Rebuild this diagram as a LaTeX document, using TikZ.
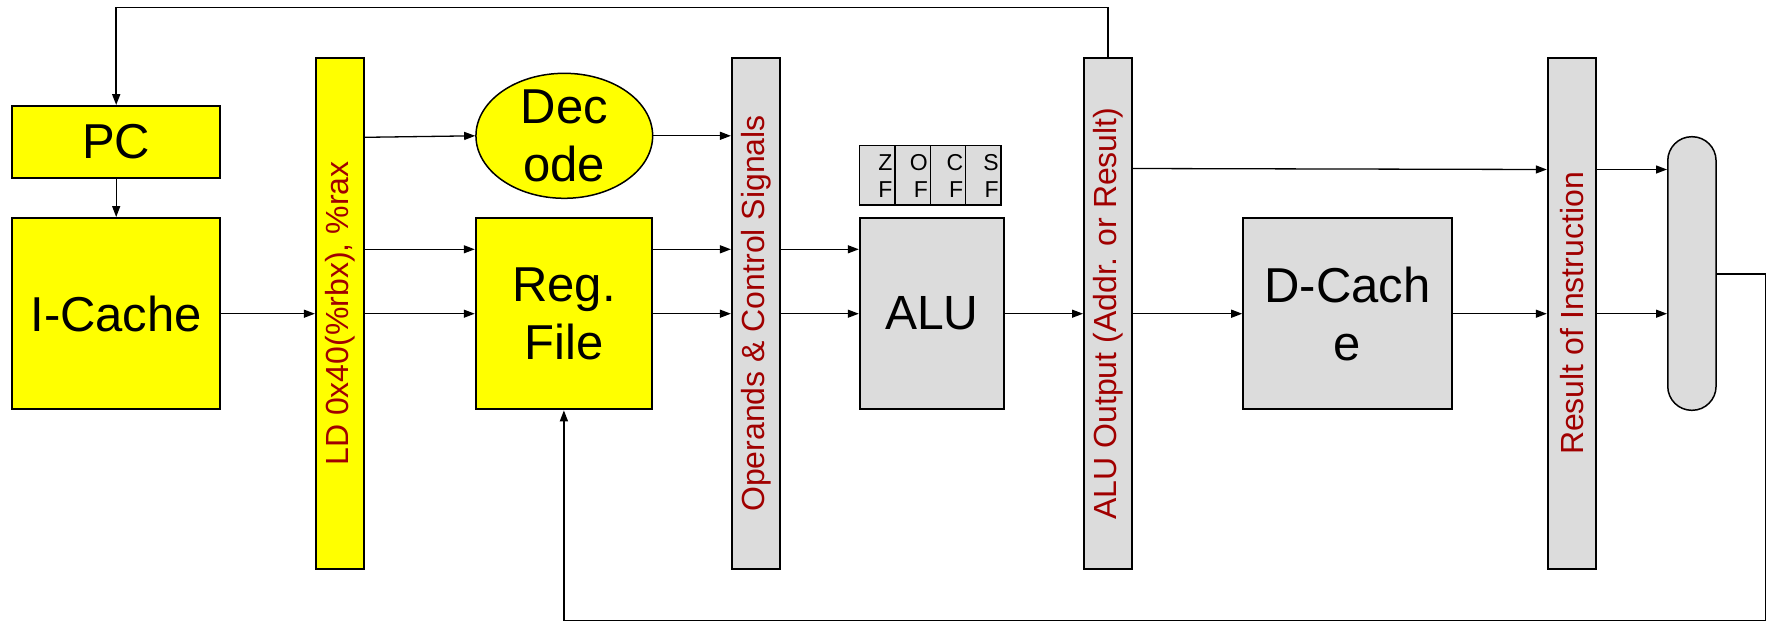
\documentclass[tikz,border=0pt]{standalone}
\usepackage{fontspec}
\setmainfont{Liberation Sans}
\usetikzlibrary{arrows.meta,shapes.geometric,calc}
\definecolor{boxyellow}{RGB}{255,255,0}
\definecolor{boxgray}{RGB}{220,220,220}
\definecolor{labred}{RGB}{160,0,0}
\begin{document}
\begin{tikzpicture}[x=1pt,y=-1pt,
  big/.style={font=\fontsize{49}{58}\selectfont, align=center},
  unit/.style={draw=black, line width=2pt, inner sep=0pt, rectangle},
  ybox/.style={unit, fill=boxyellow},
  gbox/.style={unit, fill=boxgray},
  latch/.style={unit, minimum width=48pt, minimum height=511.6pt},
  vlabel/.style={rotate=90, text=labred, font=\fontsize{32}{38}\selectfont, inner sep=0pt},
  flagcell/.style={draw=black, line width=1.5pt, fill=boxgray, inner sep=0pt, minimum width=35.4pt, minimum height=59.3pt},
  flagtxt/.style={font=\fontsize{23}{27.7}\selectfont, align=right, inner sep=0pt, anchor=east},
  arr/.style={line width=1.3pt, -{Triangle[length=11pt,width=8pt]}},
  fb/.style={line width=1.8pt}
]
\useasboundingbox (0,0) rectangle (1771,622);

% stage boxes
\node[ybox, minimum width=208.5pt, minimum height=71.7pt, big] (PC) at (116.2,141.9) {PC};
\node[ybox, minimum width=208.5pt, minimum height=191.3pt, big] (IC) at (116.2,313.7) {I-Cache};
\node[latch, fill=boxyellow] (LD) at (339.9,313.5) {};
\node[vlabel] (LDt) at (LD.center) {LD 0x40(\%rbx), \%rax};
\node[ellipse, draw=black, line width=1.5pt, fill=boxyellow, inner sep=0pt, minimum width=176.7pt, minimum height=125pt] (DEC) at (564.3,135.8) {};
\node[big] (DECt) at (DEC.center) {Dec\\ode};
\node[ybox, minimum width=176.3pt, minimum height=191.3pt, big] (RF) at (563.9,313.7) {Reg.\\File};
\node[latch, fill=boxgray] (OPS) at (755.9,313.5) {};
\node[vlabel] (OPSt) at (OPS.center) {Operands \& Control Signals};

% flags
\node[flagcell] (ZF) at (877.2,175.3) {};
\node[flagcell] (OF) at (912.6,175.3) {};
\node[flagcell] (CF) at (948.0,175.3) {};
\node[flagcell] (SF) at (983.4,175.3) {};
\node[flagtxt] (ZFt) at ($(ZF.east)+(-3,0.7)$) {Z\\F};
\node[flagtxt] (OFt) at ($(OF.east)+(-3,0.7)$) {O\\F};
\node[flagtxt] (CFt) at ($(CF.east)+(-3,0.7)$) {C\\F};
\node[flagtxt] (SFt) at ($(SF.east)+(-3,0.7)$) {S\\F};

\node[gbox, minimum width=144.2pt, minimum height=191.3pt, font=\fontsize{48}{58}\selectfont] (ALU) at (931.9,313.7) {ALU};
\node[latch, fill=boxgray] (AO) at (1108,313.5) {};
\node[vlabel] (AOt) at (AO.center) {ALU Output (Addr. or Result)};
\node[gbox, minimum width=208.8pt, minimum height=191.3pt, big] (DC) at (1347.6,313.7) {D-Cach\\e};
\node[latch, fill=boxgray] (RES) at (1571.8,313.5) {};
\node[vlabel] (RESt) at (RES.center) {Result of Instruction};
\node[draw=black, line width=1.5pt, fill=boxgray, rounded corners=24pt, minimum width=48.3pt, minimum height=273.6pt, inner sep=0pt] (WB) at (1691.9,273.5) {};

% level coordinates
\coordinate (yA) at (0,136.3);
\coordinate (yB) at (0,249.3);
\coordinate (yC) at (0,313.7);
\coordinate (yD) at (0,169.5);
\coordinate (yTop) at (0,7.5);
\coordinate (yBot) at (0,620.7);
\coordinate (yWB) at (0,274);
\coordinate (xR) at (1765.7,0);

% connectors
\draw[arr] (PC.south) -- (IC.north);
\draw[arr] (IC.east |- yC) -- (LD.west |- yC);
\draw[arr] ($(LD.east |- yA)+(0,1)$) -- (DEC.west);
\draw[arr] (LD.east |- yB) -- (RF.west |- yB);
\draw[arr] (LD.east |- yC) -- (RF.west |- yC);
\draw[arr] (DEC.east) -- (OPS.west |- DEC.east);
\draw[arr] (RF.east |- yB) -- (OPS.west |- yB);
\draw[arr] (RF.east |- yC) -- (OPS.west |- yC);
\draw[arr] (OPS.east |- yB) -- (ALU.west |- yB);
\draw[arr] (OPS.east |- yC) -- (ALU.west |- yC);
\draw[arr] (ALU.east |- yC) -- (AO.west |- yC);
\draw[arr] (AO.east |- yC) -- (DC.west |- yC);
\draw[arr] ($(AO.east |- yD)+(0,-1)$) -- (RES.west |- yD);
\draw[arr] (DC.east |- yC) -- (RES.west |- yC);
\draw[arr] (RES.east |- yD) -- (WB.west |- yD);
\draw[arr] (RES.east |- yC) -- (WB.west |- yC);

% feedback loops
\draw[fb, -{Triangle[length=11pt,width=8pt]}] (AO.north) -- (AO.north |- yTop) -- (PC.north |- yTop) -- (PC.north);
\draw[line width=1.5pt, -{Triangle[length=11pt,width=8pt]}] (WB.east |- yWB) -- (xR |- yWB) -- (xR |- yBot) -- (RF.south |- yBot) -- (RF.south);
\end{tikzpicture}
\end{document}
